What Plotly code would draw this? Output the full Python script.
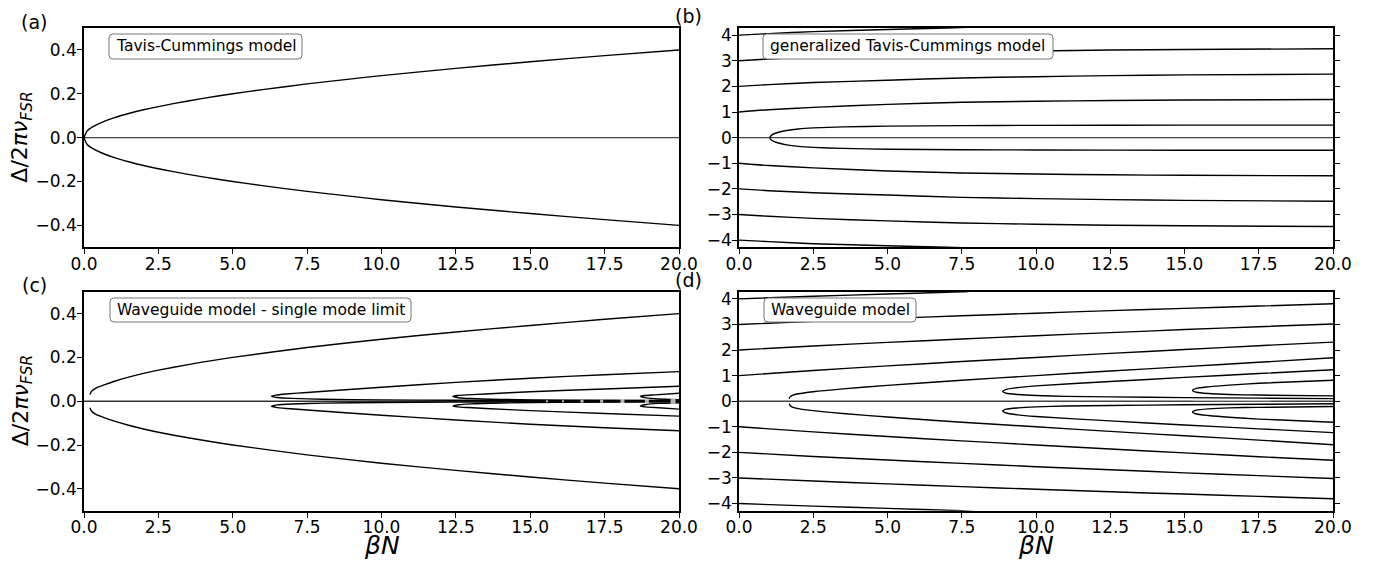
import plotly.graph_objects as go

W, H = 1375, 564

# ---------------- panel (a): Tavis-Cummings model ----------------
a_x = [0, 0.1, 0.3, 0.6, 1, 1.5, 2, 3, 4, 5, 6, 7.5, 9, 10, 12.5, 15, 17.5, 20]
a_upper = [0, 0.03, 0.05, 0.07, 0.09, 0.11, 0.127, 0.155, 0.179, 0.2, 0.219, 0.245, 0.268, 0.283, 0.316, 0.346, 0.374, 0.4]
a_lower = [0, -0.03, -0.05, -0.07, -0.09, -0.11, -0.127, -0.155, -0.179, -0.2, -0.219, -0.245, -0.268, -0.283, -0.316, -0.346, -0.374, -0.4]

# ---------------- panel (b): generalized Tavis-Cummings model ----------------
b_x4 = [0, 1, 2.5, 5, 7, 8]
b_p4 = [4.0, 4.06, 4.14, 4.22, 4.28, 4.32]
b_m4 = [-4.0, -4.06, -4.14, -4.22, -4.28, -4.32]
b_x = [0, 1, 2.5, 5, 7.5, 10, 12.5, 15, 20]
b_p3 = [3.0, 3.07, 3.15, 3.25, 3.33, 3.38, 3.42, 3.44, 3.47]
b_p2 = [2.0, 2.07, 2.15, 2.24, 2.33, 2.38, 2.42, 2.45, 2.48]
b_p1 = [1.0, 1.09, 1.18, 1.3, 1.38, 1.42, 1.45, 1.47, 1.49]
b_m1 = [-1.0, -1.09, -1.18, -1.3, -1.38, -1.42, -1.45, -1.47, -1.49]
b_m2 = [-2.0, -2.07, -2.15, -2.24, -2.33, -2.38, -2.42, -2.45, -2.48]
b_m3 = [-3.0, -3.07, -3.15, -3.25, -3.33, -3.38, -3.42, -3.44, -3.47]
b_branch_x = [1.04, 1.1, 1.3, 1.6, 2, 2.5, 3.5, 5, 7.5, 10, 15, 20]
b_branch_up = [0.0, 0.1, 0.2, 0.28, 0.34, 0.38, 0.42, 0.45, 0.47, 0.48, 0.49, 0.49]
b_branch_dn = [0.0, -0.1, -0.2, -0.28, -0.34, -0.38, -0.42, -0.45, -0.47, -0.48, -0.49, -0.49]

# ---------------- panel (c): waveguide model - single mode limit ----------------
c1_x = [0.2, 0.25, 0.4, 0.7, 1, 1.5, 2, 2.5, 3.5, 5, 7.5, 10, 12.5, 15, 17.5, 20]
c1_up = [0.03, 0.045, 0.06, 0.076, 0.09, 0.11, 0.127, 0.142, 0.167, 0.2, 0.245, 0.283, 0.316, 0.346, 0.374, 0.4]
c1_dn = [-0.03, -0.045, -0.06, -0.076, -0.09, -0.11, -0.127, -0.142, -0.167, -0.2, -0.245, -0.283, -0.316, -0.346, -0.374, -0.4]
c2_out_x = [6.3, 6.45, 6.8, 7.5, 10, 12.5, 15, 17.5, 20]
c2_out_up = [0.023, 0.028, 0.033, 0.04, 0.064, 0.086, 0.105, 0.121, 0.135]
c2_out_dn = [-0.023, -0.028, -0.033, -0.04, -0.064, -0.086, -0.105, -0.121, -0.135]
c2_in_x = [6.3, 6.5, 7, 8, 10, 12.5, 15, 20]
c2_in_up = [0.023, 0.017, 0.013, 0.009, 0.006, 0.004, 0.003, 0.002]
c2_in_dn = [-0.023, -0.017, -0.013, -0.009, -0.006, -0.004, -0.003, -0.002]
c3_out_x = [12.4, 12.55, 12.9, 13.5, 15, 17.5, 20]
c3_out_up = [0.022, 0.026, 0.029, 0.033, 0.043, 0.056, 0.068]
c3_out_dn = [-0.022, -0.026, -0.029, -0.033, -0.043, -0.056, -0.068]
c3_in_x = [12.4, 12.6, 13, 14, 16, 20]
c3_in_up = [0.022, 0.016, 0.012, 0.008, 0.005, 0.003]
c3_in_dn = [-0.022, -0.016, -0.012, -0.008, -0.005, -0.003]
c4_out_x = [18.7, 18.85, 19.2, 20]
c4_out_up = [0.022, 0.026, 0.029, 0.036]
c4_out_dn = [-0.022, -0.026, -0.029, -0.036]
c4_in_x = [18.7, 18.9, 19.3, 20]
c4_in_up = [0.022, 0.015, 0.01, 0.007]
c4_in_dn = [-0.022, -0.015, -0.01, -0.007]
c_gap_x = [15.56, 16.1, 16.74, 17.4, 18.1, 18.92, 19.8]
c_gap_y = [0, 0, 0, 0, 0, 0, 0]

# ---------------- panel (d): waveguide model ----------------
d_x4 = [0, 2.5, 5, 7.5, 8]
d_p4 = [4.0, 4.1, 4.19, 4.28, 4.32]
d_m4 = [-4.0, -4.1, -4.19, -4.28, -4.32]
d_x = [0, 2.5, 5, 7.5, 10, 12.5, 15, 17.5, 20]
d_p3 = [3.0, 3.12, 3.23, 3.34, 3.44, 3.54, 3.63, 3.72, 3.81]
d_p2 = [2.0, 2.16, 2.3, 2.43, 2.56, 2.68, 2.8, 2.91, 3.02]
d_p1 = [1.0, 1.2, 1.38, 1.55, 1.71, 1.87, 2.02, 2.17, 2.31]
d_m1 = [-1.0, -1.2, -1.38, -1.55, -1.71, -1.87, -2.02, -2.17, -2.31]
d_m2 = [-2.0, -2.16, -2.3, -2.43, -2.56, -2.68, -2.8, -2.91, -3.02]
d_m3 = [-3.0, -3.12, -3.23, -3.34, -3.44, -3.54, -3.63, -3.72, -3.81]
d1_x = [1.69, 1.72, 1.8, 2.0, 2.5, 3.5, 5, 7.5, 10, 12.5, 15, 17.5, 20]
d1_up = [0.1, 0.17, 0.23, 0.29, 0.37, 0.48, 0.62, 0.82, 1.0, 1.18, 1.35, 1.52, 1.7]
d1_dn = [-0.1, -0.17, -0.23, -0.29, -0.37, -0.48, -0.62, -0.82, -1.0, -1.18, -1.35, -1.52, -1.7]
d2_out_x = [8.88, 9.0, 9.3, 10, 12.5, 15, 17.5, 20]
d2_out_up = [0.38, 0.46, 0.52, 0.6, 0.77, 0.93, 1.08, 1.23]
d2_out_dn = [-0.38, -0.46, -0.52, -0.6, -0.77, -0.93, -1.08, -1.23]
d2_in_x = [8.88, 9.0, 9.4, 10, 11, 12.5, 15, 17.5, 20]
d2_in_up = [0.38, 0.31, 0.26, 0.22, 0.19, 0.17, 0.14, 0.12, 0.1]
d2_in_dn = [-0.38, -0.31, -0.26, -0.22, -0.19, -0.17, -0.14, -0.12, -0.1]
d3_out_x = [15.27, 15.4, 15.8, 16.5, 17.5, 20]
d3_out_up = [0.42, 0.5, 0.56, 0.63, 0.7, 0.82]
d3_out_dn = [-0.42, -0.5, -0.56, -0.63, -0.7, -0.82]
d3_in_x = [15.27, 15.4, 15.8, 16.5, 17.5, 20]
d3_in_up = [0.42, 0.35, 0.3, 0.26, 0.24, 0.21]
d3_in_dn = [-0.42, -0.35, -0.3, -0.26, -0.24, -0.21]
d_gray_x = [15.3, 17.9]
d_gray_y = [0.03, 0.02]

zero_x = [0, 20]
zero_y = [0, 0]

fig = go.Figure()


def add(xs, ys, ax, color="black", width=1.4, spline=True):
    fig.add_trace(go.Scatter(
        x=xs, y=ys, mode="lines", xaxis="x" + ax, yaxis="y" + ax,
        line=dict(color=color, width=width, shape="spline" if spline else "linear", smoothing=0.6),
        showlegend=False, hoverinfo="skip"))


def hairpin(ox, oy, ix, iy, ax):
    xs = list(reversed(ox)) + ix[1:]
    ys = list(reversed(oy)) + iy[1:]
    add(xs, ys, ax)


# (a)
add(zero_x, zero_y, "", color="#444444", width=1.4, spline=False)
add(a_x, a_upper, "")
add(a_x, a_lower, "")

# (b)
add(zero_x, zero_y, "2", color="#444444", width=1.4, spline=False)
add(b_x4, b_p4, "2")
add(b_x4, b_m4, "2")
for ys in (b_p3, b_p2, b_p1, b_m1, b_m2, b_m3):
    add(b_x, ys, "2")
hairpin(b_branch_x, b_branch_up, b_branch_x, b_branch_dn, "2")

# (c)
add(zero_x, zero_y, "3", color="#333333", width=1.4, spline=False)
add(c1_x, c1_up, "3")
add(c1_x, c1_dn, "3")
hairpin(c2_out_x, c2_out_up, c2_in_x, c2_in_up, "3")
hairpin(c2_out_x, c2_out_dn, c2_in_x, c2_in_dn, "3")
hairpin(c3_out_x, c3_out_up, c3_in_x, c3_in_up, "3")
hairpin(c3_out_x, c3_out_dn, c3_in_x, c3_in_dn, "3")
hairpin(c4_out_x, c4_out_up, c4_in_x, c4_in_up, "3")
hairpin(c4_out_x, c4_out_dn, c4_in_x, c4_in_dn, "3")
fig.add_trace(go.Scatter(
    x=c_gap_x, y=c_gap_y, mode="markers", xaxis="x3", yaxis="y3",
    marker=dict(symbol="square", color="white", size=[2, 2, 3, 3, 4, 4, 5], line=dict(width=0)),
    showlegend=False, hoverinfo="skip"))

# (d)
add(zero_x, zero_y, "4", color="#444444", width=1.4, spline=False)
add(d_gray_x, d_gray_y, "4", color="#bbbbbb", width=1.2, spline=False)
add(d_x4, d_p4, "4")
add(d_x4, d_m4, "4")
for ys in (d_p3, d_p2, d_p1, d_m1, d_m2, d_m3):
    add(d_x, ys, "4")
add(d1_x, d1_up, "4")
add(d1_x, d1_dn, "4")
hairpin(d2_out_x, d2_out_up, d2_in_x, d2_in_up, "4")
hairpin(d2_out_x, d2_out_dn, d2_in_x, d2_in_dn, "4")
hairpin(d3_out_x, d3_out_up, d3_in_x, d3_in_up, "4")
hairpin(d3_out_x, d3_out_dn, d3_in_x, d3_in_dn, "4")


def px(x):
    return x / W


def py(y):
    return 1 - y / H


FONT = "DejaVu Sans"
tickfont = dict(family=FONT, size=17, color="black")

left_dom = [px(84), px(679)]
right_dom = [px(739), px(1333)]
top_dom = [py(247.3), py(28)]
bot_dom = [py(510.7), py(291.7)]

common_x = dict(range=[0, 20], dtick=2.5, tick0=0, tickformat=".1f", ticks="outside", ticklen=5,
                tickwidth=1.2, tickcolor="black", showline=True, linecolor="black", linewidth=1.6,
                mirror=True, showgrid=False, zeroline=False, tickfont=tickfont, automargin=False,
                ticklabelstandoff=-5)


def yax(rng, dtick, fmt, dom, anchor, right_ticks):
    return dict(range=rng, dtick=dtick, tick0=0, tickformat=fmt, ticks="outside", ticklen=5,
                tickwidth=1.2, tickcolor="black", showline=True, linecolor="black", linewidth=1.6,
                mirror="ticks" if right_ticks else True, showgrid=False, zeroline=False,
                tickfont=tickfont, domain=dom, anchor=anchor, automargin=False,
                ticklabelstandoff=-3)


fig.update_layout(
    width=W, height=H, autosize=False,
    margin=dict(l=0, r=0, t=0, b=0, pad=0),
    paper_bgcolor="white", plot_bgcolor="white",
    font=dict(family=FONT, color="black", size=17),
    xaxis=dict(common_x, domain=left_dom, anchor="y"),
    yaxis=yax([-0.5, 0.5], 0.2, ".1f", top_dom, "x", False),
    xaxis2=dict(common_x, domain=right_dom, anchor="y2"),
    yaxis2=yax([-4.28, 4.28], 1, "d", top_dom, "x2", True),
    xaxis3=dict(common_x, domain=left_dom, anchor="y3"),
    yaxis3=yax([-0.5, 0.5], 0.2, ".1f", bot_dom, "x3", False),
    xaxis4=dict(common_x, domain=right_dom, anchor="y4"),
    yaxis4=yax([-4.28, 4.28], 1, "d", bot_dom, "x4", True),
)


def rounded_box(x0, y0, x1, y1, r=4):
    X0, X1 = px(x0), px(x1)
    Y0, Y1 = py(y0), py(y1)
    rx, ry = r / W, r / H
    path = (f"M {X0+rx},{Y0} L {X1-rx},{Y0} Q {X1},{Y0} {X1},{Y0-ry} "
            f"L {X1},{Y1+ry} Q {X1},{Y1} {X1-rx},{Y1} L {X0+rx},{Y1} "
            f"Q {X0},{Y1} {X0},{Y1+ry} L {X0},{Y0-ry} Q {X0},{Y0} {X0+rx},{Y0} Z")
    fig.add_shape(type="path", path=path, xref="paper", yref="paper",
                  line=dict(color="#777777", width=1), fillcolor="white", layer="above")


boxes = [
    (109, 34, 302, 59, "Tavis-Cummings model"),
    (763, 34, 1053, 59, "generalized Tavis-Cummings model"),
    (110, 298, 411, 322, "Waveguide model - single mode limit"),
    (764, 298, 916, 322, "Waveguide model"),
]
for x0, y0, x1, y1, txt in boxes:
    rounded_box(x0, y0, x1, y1)
    fig.add_annotation(x=px(x0 + 4.5), y=py((y0 + y1) / 2), xref="paper", yref="paper",
                       text=txt, showarrow=False, xanchor="left", yanchor="middle",
                       font=dict(family=FONT, size=15.5, color="black"))

labels = [(34, 22, "(a)"), (688, 16, "(b)"), (34, 285, "(c)"), (688, 280, "(d)")]
for x, y, t in labels:
    fig.add_annotation(x=px(x), y=py(y), xref="paper", yref="paper", text=t, showarrow=False,
                       xanchor="center", yanchor="middle", font=dict(family=FONT, size=19, color="black"))

ytitle = "Δ/2<i>πν</i><sub><i>FSR</i></sub>"
for yc in ((28 + 247.3) / 2, (291.7 + 510.7) / 2):
    fig.add_annotation(x=px(22), y=py(yc), xref="paper", yref="paper", text=ytitle, showarrow=False,
                       textangle=-90, xanchor="center", yanchor="middle",
                       font=dict(family=FONT, size=22, color="black"))

for xc in ((84 + 679) / 2, (739 + 1333) / 2):
    fig.add_annotation(x=px(xc), y=py(545), xref="paper", yref="paper", text="<i>βN</i>",
                       showarrow=False, xanchor="center", yanchor="middle",
                       font=dict(family=FONT, size=25, color="black"))

fig.write_html("out.html", config={"displayModeBar": False},
               post_script="document.body.style.margin='0';document.body.style.padding='0';")
